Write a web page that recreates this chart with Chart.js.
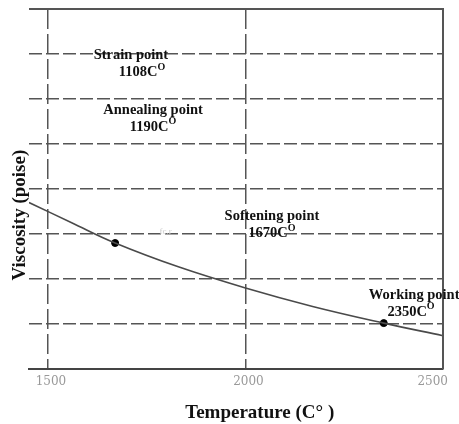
<!DOCTYPE html>
<html>
<head>
<meta charset="utf-8">
<script src="https://cdn.jsdelivr.net/npm/chart.js@4.4.1/dist/chart.umd.min.js"></script>
<style>
  html, body { margin: 0; padding: 0; background: #fff; }
  #wrap { width: 459px; height: 424px; }
</style>
</head>
<body>
<div id="wrap"><canvas id="viscChart" width="459" height="424"></canvas></div>
<script>
// Viscosity curve, read along the temperature axis
const temps = [1452, 1560, 1670, 1830, 2000, 2170, 2350, 2500];
const viscosity = [3.70, 3.25, 2.80, 2.27, 1.80, 1.39, 1.02, 0.74];

// Marked points on the curve
const markedTemps = [1670, 2350];
const markedVisc = [2.80, 1.02];

// Axis ticks
const xTicks = [1500, 2000, 2500];
const xMin = 1452, xMax = 2500;
const yMin = 0, yMax = 8;

// Reference point names and temperatures
const pointNames = ['Strain point', 'Annealing point', 'Softening point', 'Working point'];
const pointTemps = ['1108', '1190', '1670', '2350'];

const serifBold = '"Liberation Serif", "Times New Roman", serif';

// where each two-line note sits, in data units
const noteAnchors = [
    { x1: 1710, y1: 6.98, x2: 1738, y2: 6.60 },
    { x1: 1766, y1: 5.76, x2: 1766, y2: 5.38 },
    { x1: 2067, y1: 3.40, x2: 2067, y2: 3.02 },
    { x1: 2427, y1: 1.64, x2: 2419, y2: 1.27 }
];

const notesPlugin = {
    id: 'notes',
    afterDraw(chart) {
        const ctx = chart.ctx;
        const xs = chart.scales.x, ys = chart.scales.y;
        const area = chart.chartArea;

        // solid frame on top and right
        ctx.save();
        ctx.strokeStyle = '#555';
        ctx.lineWidth = 2;
        ctx.beginPath();
        ctx.moveTo(area.left, area.top);
        ctx.lineTo(area.right, area.top);
        ctx.lineTo(area.right, area.bottom);
        ctx.stroke();

        ctx.fillStyle = '#111';
        ctx.textBaseline = 'middle';
        pointNames.forEach((name, i) => {
            const a = noteAnchors[i];
            ctx.font = 'bold 14.5px ' + serifBold;
            ctx.textAlign = 'center';
            ctx.fillText(name, xs.getPixelForValue(a.x1), ys.getPixelForValue(a.y1));

            // temperature with a raised "O"
            const main = pointTemps[i] + 'C';
            const mainW = ctx.measureText(main).width;
            ctx.font = 'bold 10px ' + serifBold;
            const supW = ctx.measureText('O').width;
            const cx = xs.getPixelForValue(a.x2);
            const cy = ys.getPixelForValue(a.y2);
            const startX = cx - (mainW + supW) / 2;
            ctx.textAlign = 'left';
            ctx.font = 'bold 14.5px ' + serifBold;
            ctx.fillText(main, startX, cy);
            ctx.font = 'bold 10px ' + serifBold;
            ctx.fillText('O', startX + mainW, cy - 5);
        });

        // faint smudge of text left of the softening note
        ctx.fillStyle = '#c8c8c8';
        ctx.font = '9px ' + serifBold;
        ctx.textAlign = 'center';
        ctx.fillText('fc.r', xs.getPixelForValue(1798), ys.getPixelForValue(3.05));
        ctx.restore();
    }
};

new Chart(document.getElementById('viscChart'), {
    type: 'scatter',
    data: {
        datasets: [
            {
                type: 'line',
                data: temps.map((t, i) => ({ x: t, y: viscosity[i] })),
                borderColor: '#4a4a4a',
                borderWidth: 1.6,
                pointRadius: 0,
                tension: 0.4,
                fill: false
            },
            {
                data: markedTemps.map((t, i) => ({ x: t, y: markedVisc[i] })),
                backgroundColor: '#000',
                borderColor: '#000',
                pointRadius: 3.5
            }
        ]
    },
    options: {
        responsive: false,
        animation: false,
        layout: { padding: { top: 9, right: 16, left: 0, bottom: 0 } },
        plugins: {
            legend: { display: false },
            tooltip: { enabled: false }
        },
        scales: {
            x: {
                type: 'linear',
                min: xMin,
                max: xMax,
                afterBuildTicks: scale => { scale.ticks = xTicks.map(v => ({ value: v })); },
                afterFit: scale => {
                    scale.height = 55;
                    scale.paddingLeft = 0;
                    scale.paddingRight = 0;
                },
                grid: { color: '#555', lineWidth: 1.5, drawTicks: false },
                border: { display: true, color: '#444', width: 2, dash: [20, 5] },
                ticks: {
                    color: '#999',
                    font: { family: '"DejaVu Serif", serif', size: 12 },
                    padding: 6,
                    labelOffset: 3,
                    maxRotation: 0,
                    autoSkip: false,
                    // last label sits inside the right edge
                    callback: v => v === xMax ? v + '       ' : String(v)
                },
                title: {
                    display: true,
                    text: '          Temperature (C\u00b0 )',
                    color: '#111',
                    font: { family: serifBold, size: 19, weight: 'bold' },
                    padding: { top: 0, bottom: 0 }
                }
            },
            y: {
                type: 'linear',
                min: yMin,
                max: yMax,
                afterFit: scale => { scale.width = 29; },
                ticks: { display: false, stepSize: 1 },
                grid: { color: '#555', lineWidth: 1.5, drawTicks: false },
                border: { display: false, dash: [13, 4] },
                title: {
                    display: true,
                    text: 'Viscosity (poise)           ',
                    color: '#111',
                    font: { family: serifBold, size: 19, weight: 'bold' },
                    padding: { top: 9, bottom: 0 }
                }
            }
        }
    },
    plugins: [notesPlugin]
});
</script>
</body>
</html>
